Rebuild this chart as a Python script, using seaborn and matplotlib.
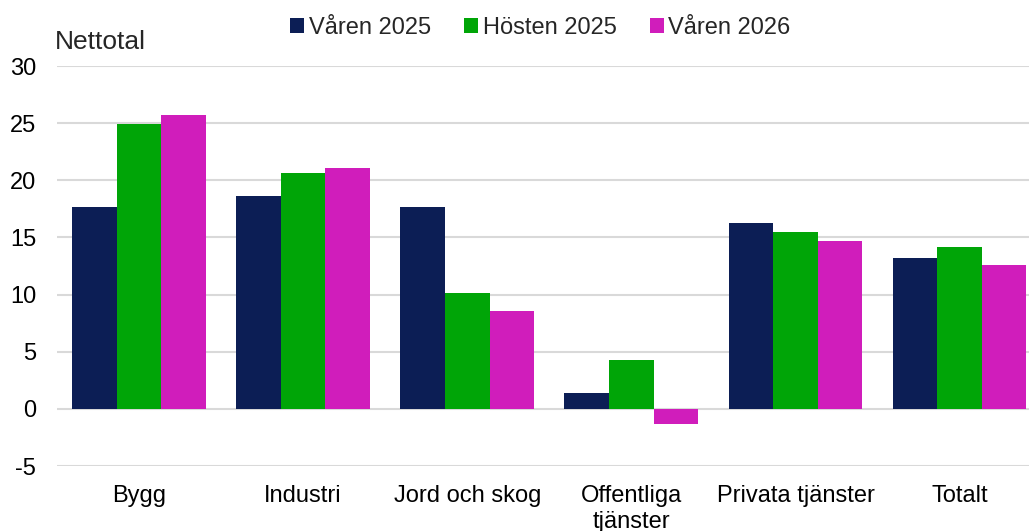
import matplotlib
matplotlib.use("Agg")
import matplotlib.pyplot as plt
import seaborn as sns
import pandas as pd

categories = ["Bygg", "Industri", "Jord och skog", "Offentliga\ntjänster",
              "Privata tjänster", "Totalt"]
series = ["Våren 2025", "Hösten 2025", "Våren 2026"]
varen_2025 = [17.7, 18.6, 17.7, 1.4, 16.3, 13.2]
hosten_2025 = [24.9, 20.6, 10.1, 4.3, 15.5, 14.2]
varen_2026 = [25.7, 21.1, 8.6, -1.3, 14.7, 12.6]
colors = ["#0C1E55", "#00A507", "#D01DBB"]

rows = []
for name, vals in zip(series, [varen_2025, hosten_2025, varen_2026]):
    for cat, v in zip(categories, vals):
        rows.append({"kategori": cat, "serie": name, "varde": v})
df = pd.DataFrame(rows)

sns.set_style("white")
plt.rcParams["font.family"] = ["Liberation Sans", "DejaVu Sans"]
plt.rcParams["axes.unicode_minus"] = False

fig = plt.figure(figsize=(10.29, 5.31), dpi=100)
# axes runs slightly past the right edge, as in the original
ax = fig.add_axes([0.0553, 0.1224, 0.957, 0.7533])

sns.barplot(data=df, x="kategori", y="varde", hue="serie", order=categories,
            hue_order=series, palette=colors, width=0.815, saturation=1,
            edgecolor="none", ax=ax, zorder=3)

ax.set_ylim(-5, 30)
ax.set_xlim(-0.5, 5.5)
ax.set_yticks(range(-5, 31, 5))
ax.yaxis.grid(True, color="#D9D9D9", linewidth=1.5, zorder=0)
ax.set_axisbelow(True)
for s in ax.spines.values():
    s.set_visible(False)
ax.tick_params(axis="both", length=0, labelsize=17, colors="#000000")
ax.tick_params(axis="x", pad=14)
ax.tick_params(axis="y", pad=15)
ax.set_xlabel("")
ax.set_ylabel("")

fig.text(0.053, 0.907, "Nettotal", fontsize=19, ha="left", va="baseline")

handles, labels = ax.get_legend_handles_labels()
ax.get_legend().remove()
fig.legend(handles, labels, loc="center", bbox_to_anchor=(0.525, 0.948),
           ncol=3, frameon=False, fontsize=17, handlelength=0.6,
           handleheight=0.6, handletextpad=0.2, columnspacing=1.4)

fig.savefig("out.png", dpi=100)
